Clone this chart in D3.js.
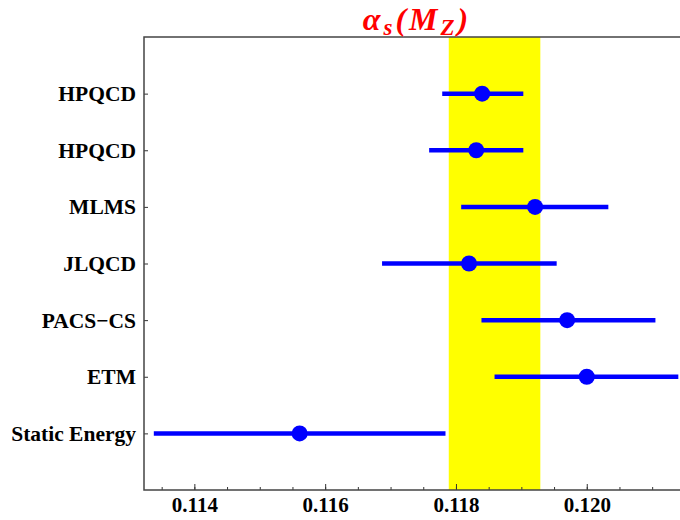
<!DOCTYPE html>
<html>
<head>
  <meta charset="utf-8">
  <title>alpha_s(M_Z) lattice determinations</title>
  <script src="https://cdn.jsdelivr.net/npm/d3@7"></script>
  <style>
    body { margin: 0; background: #fff; }
    svg text { font-family: 'Liberation Serif', 'DejaVu Serif', serif; font-weight: bold; }
  </style>
</head>
<body>
  <svg id="chart" width="680" height="520"></svg>

  <script>
    // data (top to bottom)
    var groups = ['HPQCD', 'HPQCD', 'MLMS', 'JLQCD', 'PACS\u2212CS', 'ETM', 'Static Energy'];
    var central = [0.1184, 0.11831, 0.11921, 0.1182, 0.1197, 0.1200, 0.11561];
    var lower = [0.11779, 0.11759, 0.11808, 0.11687, 0.11839, 0.11859, 0.11338];
    var upper = [0.11903, 0.11903, 0.12033, 0.11954, 0.12105, 0.1214, 0.11784];
    var band = [0.11789, 0.11929];
    var xTicks = [0.114, 0.116, 0.118, 0.120];

    var serif = "'Liberation Serif', 'DejaVu Serif', serif";

    var svg = d3.select('#chart'),
      margin = { top: 37, right: 0, bottom: 30, left: 144 },
      width = +svg.attr('width') - margin.left - margin.right,
      height = +svg.attr('height') - margin.top - margin.bottom,
      g = svg.append('g').attr('transform', 'translate(' + margin.left + ',' + margin.top + ')');

    var x = d3.scaleLinear()
      .domain([0.11323, 0.11323 + width / 65400])
      .range([0, width]);

    // categories sit at 1..7 from the bottom, with one empty step above and below
    var y = d3.scaleLinear()
      .domain([0, groups.length + 1])
      .range([height, 0]);
    var pos = (d, i) => y(groups.length - i);

    g.append('clipPath').attr('id', 'clip')
      .append('rect').attr('width', width).attr('height', height);

    var plot = g.append('g').attr('clip-path', 'url(#clip)');

    plot.append('rect')
      .attr('x', x(band[0]))
      .attr('width', x(band[1]) - x(band[0]))
      .attr('y', 0)
      .attr('height', height)
      .attr('fill', '#ffff00');

    plot.selectAll('line.err')
      .data(groups)
      .join('line')
      .attr('class', 'err')
      .attr('x1', (d, i) => x(lower[i]))
      .attr('x2', (d, i) => x(upper[i]))
      .attr('y1', pos)
      .attr('y2', pos)
      .attr('stroke', '#0000ff')
      .attr('stroke-width', 4.5);

    plot.selectAll('circle')
      .data(groups)
      .join('circle')
      .attr('cx', (d, i) => x(central[i]))
      .attr('cy', pos)
      .attr('r', 8)
      .attr('fill', '#0000ff');

    // bottom axis, ticks pointing inwards
    var xAxis = g.append('g')
      .attr('transform', 'translate(0,' + height + ')')
      .call(d3.axisBottom(x).tickValues(d3.range(0.1135, 0.1215, 0.0005)).tickSize(-3).tickFormat(''));
    xAxis.select('.domain').remove();
    xAxis.selectAll('line').attr('stroke', '#333');

    var xMajor = g.append('g')
      .attr('transform', 'translate(0,' + height + ')')
      .attr('font-family', serif)
      .call(d3.axisBottom(x).tickValues(xTicks).tickSize(-6).tickPadding(7).tickFormat(d3.format('.3f')));
    xMajor.select('.domain').remove();
    xMajor.selectAll('line').attr('stroke', '#333');
    xMajor.selectAll('text')
      .attr('fill', '#000')
      .attr('font-family', serif)
      .attr('font-size', 21);

    // left axis, category names
    var yAxis = g.append('g')
      .attr('font-family', serif)
      .call(d3.axisLeft(y).tickValues(d3.range(1, groups.length + 1)).tickSize(-4).tickPadding(8)
        .tickFormat(v => groups[groups.length - v]));
    yAxis.select('.domain').remove();
    yAxis.selectAll('line').attr('stroke', '#333');
    yAxis.selectAll('text')
      .attr('fill', '#000')
      .attr('font-family', serif)
      .attr('font-size', 21.5);

    // frame
    g.append('path')
      .attr('d', 'M' + width + ',0H0V' + height + 'H' + width)
      .attr('fill', 'none')
      .attr('stroke', '#444')
      .attr('stroke-width', 1.5);

    // title
    var title = svg.append('text')
      .attr('x', 417)
      .attr('y', 30)
      .attr('text-anchor', 'middle')
      .attr('fill', '#ff0000')
      .attr('font-family', serif)
      .attr('font-size', 32)
      .attr('font-style', 'italic')
      .attr('letter-spacing', 3);
    title.append('tspan').text('\u03b1');
    title.append('tspan').attr('font-size', 23).attr('dy', 5).text('s');
    title.append('tspan').attr('dy', -5).text('(M');
    title.append('tspan').attr('font-size', 23).attr('dy', 5).text('Z');
    title.append('tspan').attr('dy', -5).text(')');
  </script>
</body>
</html>
